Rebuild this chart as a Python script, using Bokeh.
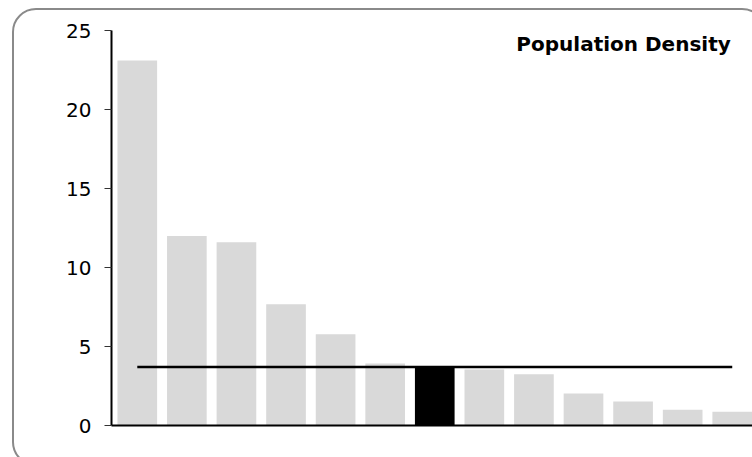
import numpy as np
from bokeh.plotting import figure
from bokeh.models import Range1d, FixedTicker, Label, InlineStyleSheet
from bokeh.embed import file_html
from bokeh.resources import INLINE

# ---- data ----
title_text = "Population Density"
values = [23.1, 12.0, 11.6, 7.67, 5.77, 3.93, 3.70, 3.55, 3.25, 2.03, 1.52, 0.99, 0.87]
highlight_index = 6
y_ticks = [0, 5, 10, 15, 20, 25]

W, H = 752, 457
xs = list(range(len(values)))
colors = ["#000000" if i == highlight_index else "#d9d9d9" for i in xs]
median = float(np.median(values))

p = figure(width=W, height=H, output_backend="svg", toolbar_location=None,
           x_range=Range1d(-0.52, -0.52 + 641 / 49.58), y_range=Range1d(0, 25),
           min_border_left=111, min_border_right=0, min_border_top=30, min_border_bottom=32)
p.background_fill_color = "white"
p.border_fill_color = "white"
p.outline_line_color = None
p.xgrid.visible = False
p.ygrid.visible = False

p.vbar(x=xs, top=values, width=0.8, fill_color=colors, line_color=None)
p.line(x=[xs[0], xs[-1]], y=[median, median], line_color="black", line_width=2.5)

# axes
p.yaxis.ticker = FixedTicker(ticks=y_ticks)
p.yaxis.axis_line_color = "black"
p.yaxis.axis_line_width = 2
p.yaxis.major_tick_line_color = "#333333"
p.yaxis.major_tick_in = 0
p.yaxis.major_tick_out = 7
p.yaxis.minor_tick_line_color = None
p.yaxis.major_label_text_font = "DejaVu Sans"
p.yaxis.major_label_text_font_size = "20px"
p.yaxis.major_label_text_color = "black"
p.yaxis.major_label_standoff = 13

p.xaxis.ticker = FixedTicker(ticks=[])
p.xaxis.axis_line_color = "black"
p.xaxis.axis_line_width = 2
p.xaxis.major_tick_line_color = None
p.xaxis.minor_tick_line_color = None

# title inside the plot
p.add_layout(Label(x=11.97, y=24.15, text=title_text, text_align="right",
                   text_baseline="alphabetic", text_font="DejaVu Sans",
                   text_font_style="bold", text_font_size="20px", text_color="black"))

# rounded chart border (drawn with CSS, clipped at the window edge)
p.stylesheets = [InlineStyleSheet(css="""
:host { position: relative; overflow: hidden; }
:host::after {
  content: ""; position: absolute; left: 12px; top: 8px;
  width: 754px; height: 458px; box-sizing: border-box;
  border: 2px solid #8a8a8a; border-radius: 24px; pointer-events: none;
}
""")]

open("out.html", "w").write(file_html(p, INLINE))
